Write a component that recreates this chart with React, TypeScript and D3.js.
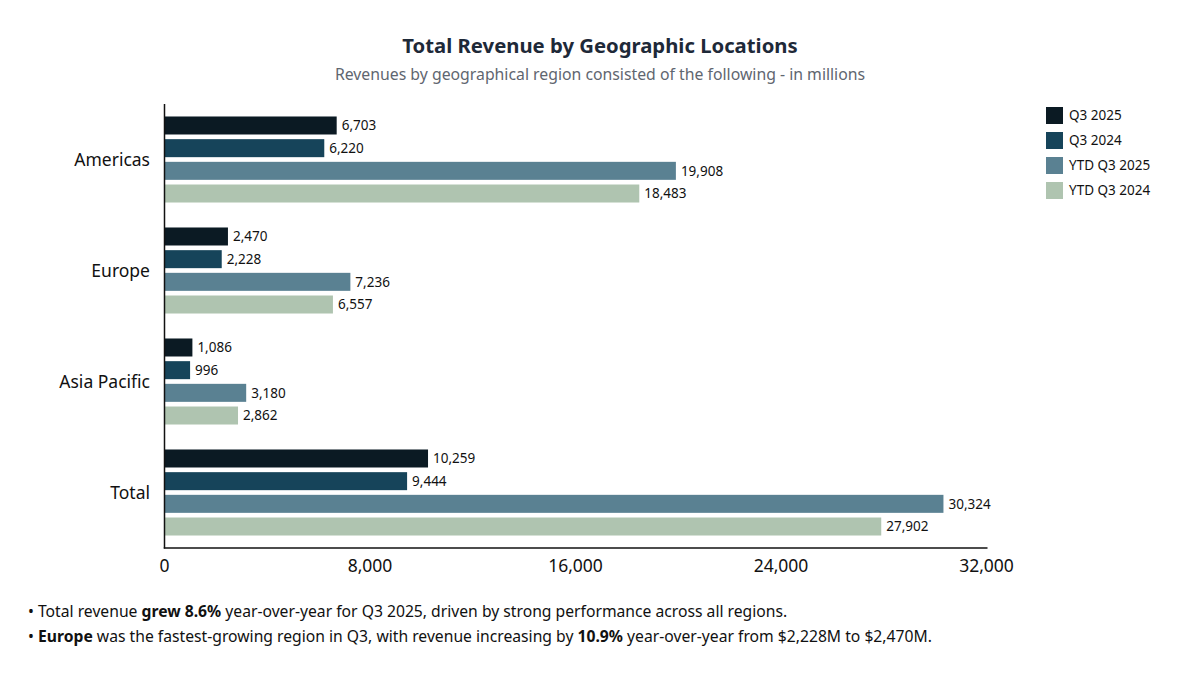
import React from "react";
import * as d3 from "d3";

const regions = ["Americas", "Europe", "Asia Pacific", "Total"];
const seriesNames = ["Q3 2025", "Q3 2024", "YTD Q3 2025", "YTD Q3 2024"];
const q3_2025 = [6703, 2470, 1086, 10259];
const q3_2024 = [6220, 2228, 996, 9444];
const ytd_2025 = [19908, 7236, 3180, 30324];
const ytd_2024 = [18483, 6557, 2862, 27902];
const seriesValues = [q3_2025, q3_2024, ytd_2025, ytd_2024];
const colors = ["#0b1a23", "#16445a", "#5a8192", "#afc4b0"];
const xTicks = [0, 8000, 16000, 24000, 32000];

const W = 1200;
const H = 676;
const FONT = "'Noto Sans', 'Open Sans', sans-serif";

export default function App() {
  React.useEffect(() => {
    document.body.style.margin = "0";
  }, []);

  const x = d3.scaleLinear().domain([0, 32000]).range([164.5, 986.5]);
  const y0 = d3
    .scaleBand<string>()
    .domain(regions)
    .range([104, 548])
    .paddingInner(0.225)
    .paddingOuter(0.1125);
  const y1 = d3
    .scaleBand<string>()
    .domain(seriesNames)
    .range([0, y0.bandwidth()])
    .paddingInner(0.206)
    .paddingOuter(0);
  const fmt = d3.format(",");

  return (
    <svg width={W} height={H} style={{ display: "block", background: "#fff" }} fontFamily={FONT}>
      <rect x={0} y={0} width={W} height={H} fill="#ffffff" />
      <text x={600} y={53} textAnchor="middle" fontSize={20.3} fontWeight="bold" fill="#1e2938">
        Total Revenue by Geographic Locations
      </text>
      <text x={600} y={80} textAnchor="middle" fontSize={15.8} fill="#5f6670">
        Revenues by geographical region consisted of the following - in millions
      </text>

      {regions.map((r, ri) => (
        <g key={r} transform={`translate(0,${y0(r)})`}>
          {seriesNames.map((s, si) => {
            const v = seriesValues[si][ri];
            const yy = y1(s)!;
            return (
              <g key={s}>
                <rect
                  x={x(0)}
                  y={yy}
                  width={x(v) - x(0)}
                  height={y1.bandwidth()}
                  fill={colors[si]}
                />
                <text
                  x={x(v) + 5}
                  y={yy + y1.bandwidth() / 2}
                  dy="0.35em"
                  fontSize={13.5}
                  fill="#111"
                >
                  {fmt(v)}
                </text>
              </g>
            );
          })}
        </g>
      ))}

      {regions.map((r) => (
        <text
          key={r}
          x={150}
          y={y0(r)! + y0.bandwidth() / 2}
          dy="0.35em"
          textAnchor="end"
          fontSize={17.5}
          fill="#111"
        >
          {r}
        </text>
      ))}

      <line x1={x(0)} x2={x(0)} y1={104} y2={548.5} stroke="#111" strokeWidth={1.5} />
      <line x1={x(0) - 0.75} x2={x(32000) + 1} y1={548} y2={548} stroke="#111" strokeWidth={1.5} />
      {xTicks.map((t) => (
        <text key={t} x={x(t)} y={572} textAnchor="middle" fontSize={17.5} fill="#111">
          {fmt(t)}
        </text>
      ))}

      {seriesNames.map((s, i) => (
        <g key={s} transform={`translate(1046,${107 + i * 25})`}>
          <rect x={0} y={0} width={17} height={17} fill={colors[i]} />
          <text x={23} y={8.5} dy="0.35em" fontSize={13.5} fill="#111">
            {s}
          </text>
        </g>
      ))}

      <g fontSize={15.7} fill="#111">
        <text x={28} y={617}>
          <tspan>• Total revenue </tspan>
          <tspan fontWeight="bold">grew 8.6%</tspan>
          <tspan> year-over-year for Q3 2025, driven by strong performance across all regions.</tspan>
        </text>
        <text x={28} y={642}>
          <tspan>• </tspan>
          <tspan fontWeight="bold">Europe</tspan>
          <tspan> was the fastest-growing region in Q3, with revenue increasing by </tspan>
          <tspan fontWeight="bold">10.9%</tspan>
          <tspan> year-over-year from $2,228M to $2,470M.</tspan>
        </text>
      </g>
    </svg>
  );
}
